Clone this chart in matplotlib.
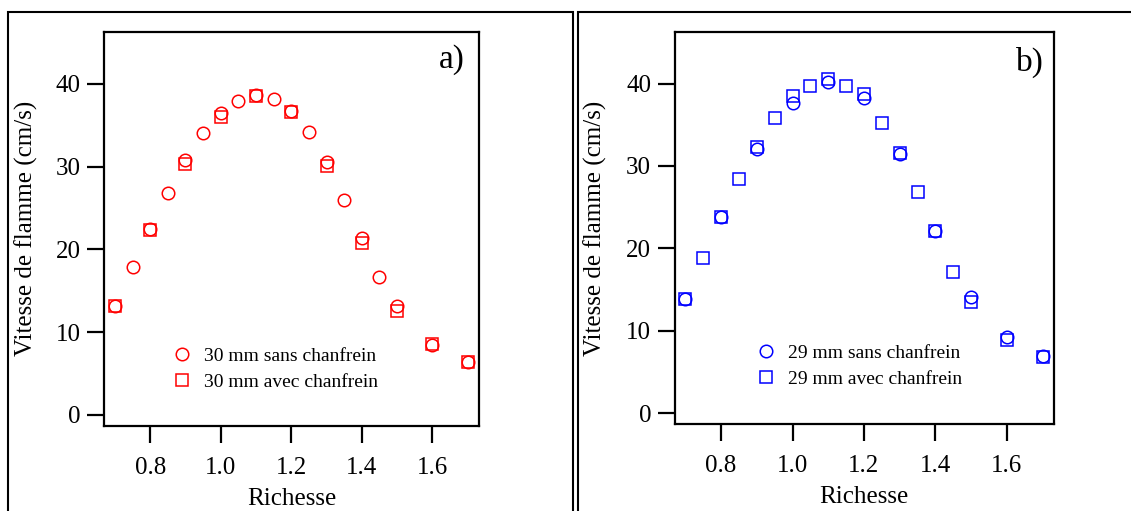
import matplotlib
matplotlib.use('Agg')
import matplotlib.pyplot as plt
from matplotlib.patches import Rectangle

plt.rcParams['font.family'] = ['Liberation Serif', 'DejaVu Serif']

# données panneau a) : 30 mm
phi_a_sans = [0.7, 0.75, 0.8, 0.85, 0.9, 0.95, 1.0, 1.05, 1.1, 1.15, 1.2, 1.25,
              1.3, 1.35, 1.4, 1.45, 1.5, 1.6, 1.7]
v_a_sans = [13.1, 17.9, 22.4, 26.8, 30.8, 34.0, 36.5, 37.9, 38.7, 38.2, 36.7, 34.2,
            30.5, 26.0, 21.4, 16.7, 13.1, 8.5, 6.4]
phi_a_avec = [0.7, 0.8, 0.9, 1.0, 1.1, 1.2, 1.3, 1.4, 1.5, 1.6, 1.7]
v_a_avec = [13.1, 22.3, 30.3, 36.0, 38.5, 36.6, 30.1, 20.8, 12.6, 8.6, 6.4]

# données panneau b) : 29 mm
phi_b_sans = [0.7, 0.8, 0.9, 1.0, 1.1, 1.2, 1.3, 1.4, 1.5, 1.6, 1.7]
v_b_sans = [13.9, 23.8, 32.1, 37.7, 40.2, 38.3, 31.5, 22.1, 14.1, 9.3, 6.9]
phi_b_avec = [0.7, 0.75, 0.8, 0.85, 0.9, 0.95, 1.0, 1.05, 1.1, 1.15, 1.2, 1.25,
              1.3, 1.35, 1.4, 1.45, 1.5, 1.6, 1.7]
v_b_avec = [13.9, 18.8, 23.8, 28.4, 32.3, 35.8, 38.5, 39.7, 40.6, 39.7, 38.7, 35.2,
            31.6, 26.8, 22.1, 17.1, 13.5, 8.9, 6.8]

xticks = [0.8, 1.0, 1.2, 1.4, 1.6]
yticks = [0, 10, 20, 30, 40]

W, H = 1131, 511
fig = plt.figure(figsize=(W / 100, H / 100), dpi=100)

# cadres autour des deux panneaux
fig.patches.append(Rectangle((8 / W, -0.2), (573 - 8) / W, 1.2 - 12 / H,
                             transform=fig.transFigure, fill=False,
                             edgecolor='black', linewidth=1.5))
fig.patches.append(Rectangle((578 / W, -0.2), 0.6, 1.2 - 12 / H,
                             transform=fig.transFigure, fill=False,
                             edgecolor='black', linewidth=1.5))

ax_a = fig.add_axes([0.0922, 0.1663, 0.3313, 0.7717])
ax_b = fig.add_axes([0.5965, 0.1697, 0.3354, 0.7683])


def style(ax):
    ax.set_xlim(0.67, 1.732)
    ax.set_ylim(-1.35, 46.3)
    ax.set_xticks(xticks)
    ax.set_xticklabels(['%.1f' % t for t in xticks])
    ax.set_yticks(yticks)
    for s in ax.spines.values():
        s.set_linewidth(1.6)
    ax.tick_params(direction='out', length=12, width=1.6, labelsize=18, pad=5)
    ax.tick_params(axis='x', pad=10)
    ax.set_xlabel('Richesse', fontsize=18)
    ax.set_ylabel('Vitesse de flamme (cm/s)', fontsize=18)
    ax.xaxis.set_label_coords(0.5, -0.157)
    ax.yaxis.set_label_coords(-0.178, 0.5)


# a)
ax_a.plot(phi_a_sans, v_a_sans, 'o', mfc='none', mec='red', ms=9, mew=1.1,
          label='30 mm sans chanfrein')
ax_a.plot(phi_a_avec, v_a_avec, 's', mfc='none', mec='red', ms=8.5, mew=1.1,
          label='30 mm avec chanfrein')
style(ax_a)
ax_a.text(0.963, 0.908, 'a)', transform=ax_a.transAxes, ha='right',
          va='baseline', fontsize=24)
ax_a.legend(loc='upper left', bbox_to_anchor=(0.181, 0.2), frameon=False,
            fontsize=14, borderpad=0, handlelength=1, handletextpad=0.63,
            labelspacing=0.45, borderaxespad=0)

# b)
ax_b.plot(phi_b_sans, v_b_sans, 'o', mfc='none', mec='blue', ms=9, mew=1.1,
          label='29 mm sans chanfrein')
ax_b.plot(phi_b_avec, v_b_avec, 's', mfc='none', mec='blue', ms=8.5, mew=1.1,
          label='29 mm avec chanfrein')
style(ax_b)
ax_b.text(0.974, 0.90, 'b)', transform=ax_b.transAxes, ha='right',
          va='baseline', fontsize=24)
ax_b.legend(loc='upper left', bbox_to_anchor=(0.215, 0.204), frameon=False,
            fontsize=14, borderpad=0, handlelength=1, handletextpad=0.63,
            labelspacing=0.45, borderaxespad=0)

fig.savefig('out.png', dpi=100)
